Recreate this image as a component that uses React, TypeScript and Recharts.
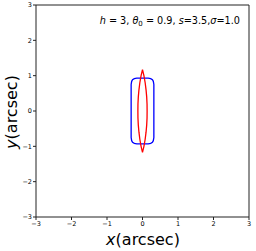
import React from 'react';
import {
  ScatterChart, Scatter, XAxis, YAxis, ReferenceLine,
} from 'recharts';

const axisTicks = [-3, -2, -1, 0, 1, 2, 3];

// caustic (red lens)
const causticX = [0, 0.04, 0.075, 0.1, 0.118, 0.128, 0.13, 0.128, 0.118, 0.1, 0.075, 0.04, 0,
  -0.04, -0.075, -0.1, -0.118, -0.128, -0.13, -0.128, -0.118, -0.1, -0.075, -0.04, 0];
const causticY = [1.17, 1.0, 0.8, 0.6, 0.4, 0.2, 0, -0.2, -0.4, -0.6, -0.8, -1.0, -1.17,
  -1.0, -0.8, -0.6, -0.4, -0.2, 0, 0.2, 0.4, 0.6, 0.8, 1.0, 1.17];

// critical curve (blue rounded box)
const criticalX = [0, 0.16, 0.23, 0.28, 0.305, 0.32, 0.32, 0.32, 0.32, 0.32, 0.305, 0.28, 0.23, 0.16, 0,
  -0.16, -0.23, -0.28, -0.305, -0.32, -0.32, -0.32, -0.32, -0.32, -0.305, -0.28, -0.23, -0.16, 0];
const criticalY = [0.93, 0.93, 0.915, 0.885, 0.84, 0.75, 0.4, 0, -0.4, -0.75, -0.84, -0.885, -0.915, -0.93, -0.93,
  -0.93, -0.915, -0.885, -0.84, -0.75, -0.4, 0, 0.4, 0.75, 0.84, 0.885, 0.915, 0.93, 0.93];

const zip = (xs: number[], ys: number[]) => xs.map((x, i) => ({ x, y: ys[i] }));
const fmt = (v: number) => (v < 0 ? `\u2212${Math.abs(v)}` : String(v));
const font = 'DejaVu Sans, sans-serif';
const noDot = () => <g />;

export default function App() {
  return (
    <div style={{ position: 'absolute', left: 0, top: 0 }}>
      <ScatterChart width={256} height={251} margin={{ top: 5, right: 7, bottom: 0, left: 0 }}>
        <XAxis
          type="number"
          dataKey="x"
          domain={[-3, 3]}
          ticks={axisTicks}
          tickFormatter={fmt}
          height={34}
          tickSize={3}
          tickMargin={1}
          stroke="#222"
          tick={{ fontSize: 6.5, fill: '#000', fontFamily: font }}
        />
        <YAxis
          type="number"
          dataKey="y"
          domain={[-3, 3]}
          ticks={axisTicks}
          tickFormatter={fmt}
          width={36}
          tickSize={3}
          tickMargin={1}
          stroke="#222"
          tick={{ fontSize: 6.5, fill: '#000', fontFamily: font }}
        />
        <ReferenceLine y={3} stroke="#222" />
        <ReferenceLine x={3} stroke="#222" />
        <Scatter
          data={zip(criticalX, criticalY)}
          line={{ stroke: '#0000ff', strokeWidth: 1.3 }}
          shape={noDot}
          isAnimationActive={false}
        />
        <Scatter
          data={zip(causticX, causticY)}
          line={{ stroke: '#ff0000', strokeWidth: 1.3 }}
          shape={noDot}
          isAnimationActive={false}
        />
        <text x={240} y={24} textAnchor="end" fontSize={9.7} fontFamily={font} fill="#000">
          <tspan fontStyle="italic">h</tspan>
          <tspan> = 3, </tspan>
          <tspan fontStyle="italic">θ</tspan>
          <tspan fontSize={7} dy={2}>0</tspan>
          <tspan dy={-2}> = 0.9, </tspan>
          <tspan fontStyle="italic">s</tspan>
          <tspan>=3.5,</tspan>
          <tspan fontStyle="italic">σ</tspan>
          <tspan>=1.0</tspan>
        </text>
        <text x={143} y={245} textAnchor="middle" fontSize={16} fontFamily={font} fill="#000">
          <tspan fontStyle="italic">x</tspan>
          <tspan>(arcsec)</tspan>
        </text>
        <text x={17} y={112} textAnchor="middle" fontSize={16} fontFamily={font} fill="#000" transform="rotate(-90 17 112)">
          <tspan fontStyle="italic">y</tspan>
          <tspan>(arcsec)</tspan>
        </text>
      </ScatterChart>
    </div>
  );
}
